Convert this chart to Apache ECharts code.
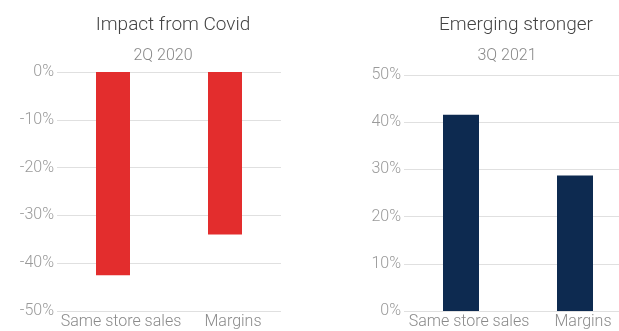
<!DOCTYPE html>
<html>
<head>
<meta charset="utf-8">
<script src="https://cdn.jsdelivr.net/npm/echarts@6/dist/echarts.min.js"></script>
<style>
  html, body { margin: 0; padding: 0; background: #fff; }
  #main { width: 619px; height: 331px; }
</style>
</head>
<body>
<div id="main"></div>
<script>
// data
var categories = ['Same store sales', 'Margins'];
var covidValues = [-42.5, -34.0];      // 2Q 2020
var strongerValues = [41.6, 28.7];     // 3Q 2021
var covidTicks = { min: -50, max: 0, interval: 10 };
var strongerTicks = { min: 0, max: 50, interval: 10 };

var FONT = 'Roboto';
var myChart = echarts.init(document.getElementById('main'));

function yAxisFor(idx, ticks) {
    return {
        type: 'value',
        gridIndex: idx,
        min: ticks.min,
        max: ticks.max,
        interval: ticks.interval,
        axisLine: { show: false },
        axisTick: { show: false },
        splitLine: { lineStyle: { color: '#e0e0e0', width: 1 } },
        axisLabel: {
            formatter: '{value}%',
            margin: 3,
            color: '#9a9a9a',
            fontSize: 16,
            fontFamily: FONT,
            fontWeight: 300
        }
    };
}

function xAxisFor(idx) {
    return {
        type: 'category',
        gridIndex: idx,
        position: 'bottom',
        data: categories,
        axisLine: { show: false },
        axisTick: { show: false },
        axisLabel: {
            interval: 0,
            hideOverlap: false,
            margin: 3,
            color: '#8a8a8a',
            fontSize: 16,
            fontFamily: FONT,
            fontWeight: 300,
            padding: [0, 0, 0, 16]
        }
    };
}

var titleStyle = { color: '#444', fontSize: 19, fontFamily: FONT, fontWeight: 300 };
var subStyle = { color: '#888', fontSize: 16, fontFamily: FONT, fontWeight: 300 };

option = {
    animation: false,
    title: [
        { text: 'Impact from Covid', left: 168, top: 11, textAlign: 'center', textStyle: titleStyle },
        { text: '2Q 2020', left: 158, top: 43, textAlign: 'center', textStyle: subStyle },
        { text: 'Emerging stronger', left: 511, top: 11, textAlign: 'center', textStyle: titleStyle },
        { text: '3Q 2021', left: 502, top: 43, textAlign: 'center', textStyle: subStyle }
    ],
    grid: [
        { left: 57, top: 72, width: 224, height: 239, outerBoundsMode: 'none' },
        { left: 404, top: 75, width: 228, height: 236, outerBoundsMode: 'none' }
    ],
    xAxis: [xAxisFor(0), xAxisFor(1)],
    yAxis: [yAxisFor(0, covidTicks), yAxisFor(1, strongerTicks)],
    series: [
        {
            type: 'bar',
            xAxisIndex: 0,
            yAxisIndex: 0,
            barWidth: 34,
            data: covidValues,
            itemStyle: { color: '#e32d2d' }
        },
        {
            type: 'bar',
            xAxisIndex: 1,
            yAxisIndex: 1,
            barWidth: 36,
            data: strongerValues,
            itemStyle: { color: '#0d2a50' }
        }
    ]
};
myChart.setOption(option);
</script>
</body>
</html>
